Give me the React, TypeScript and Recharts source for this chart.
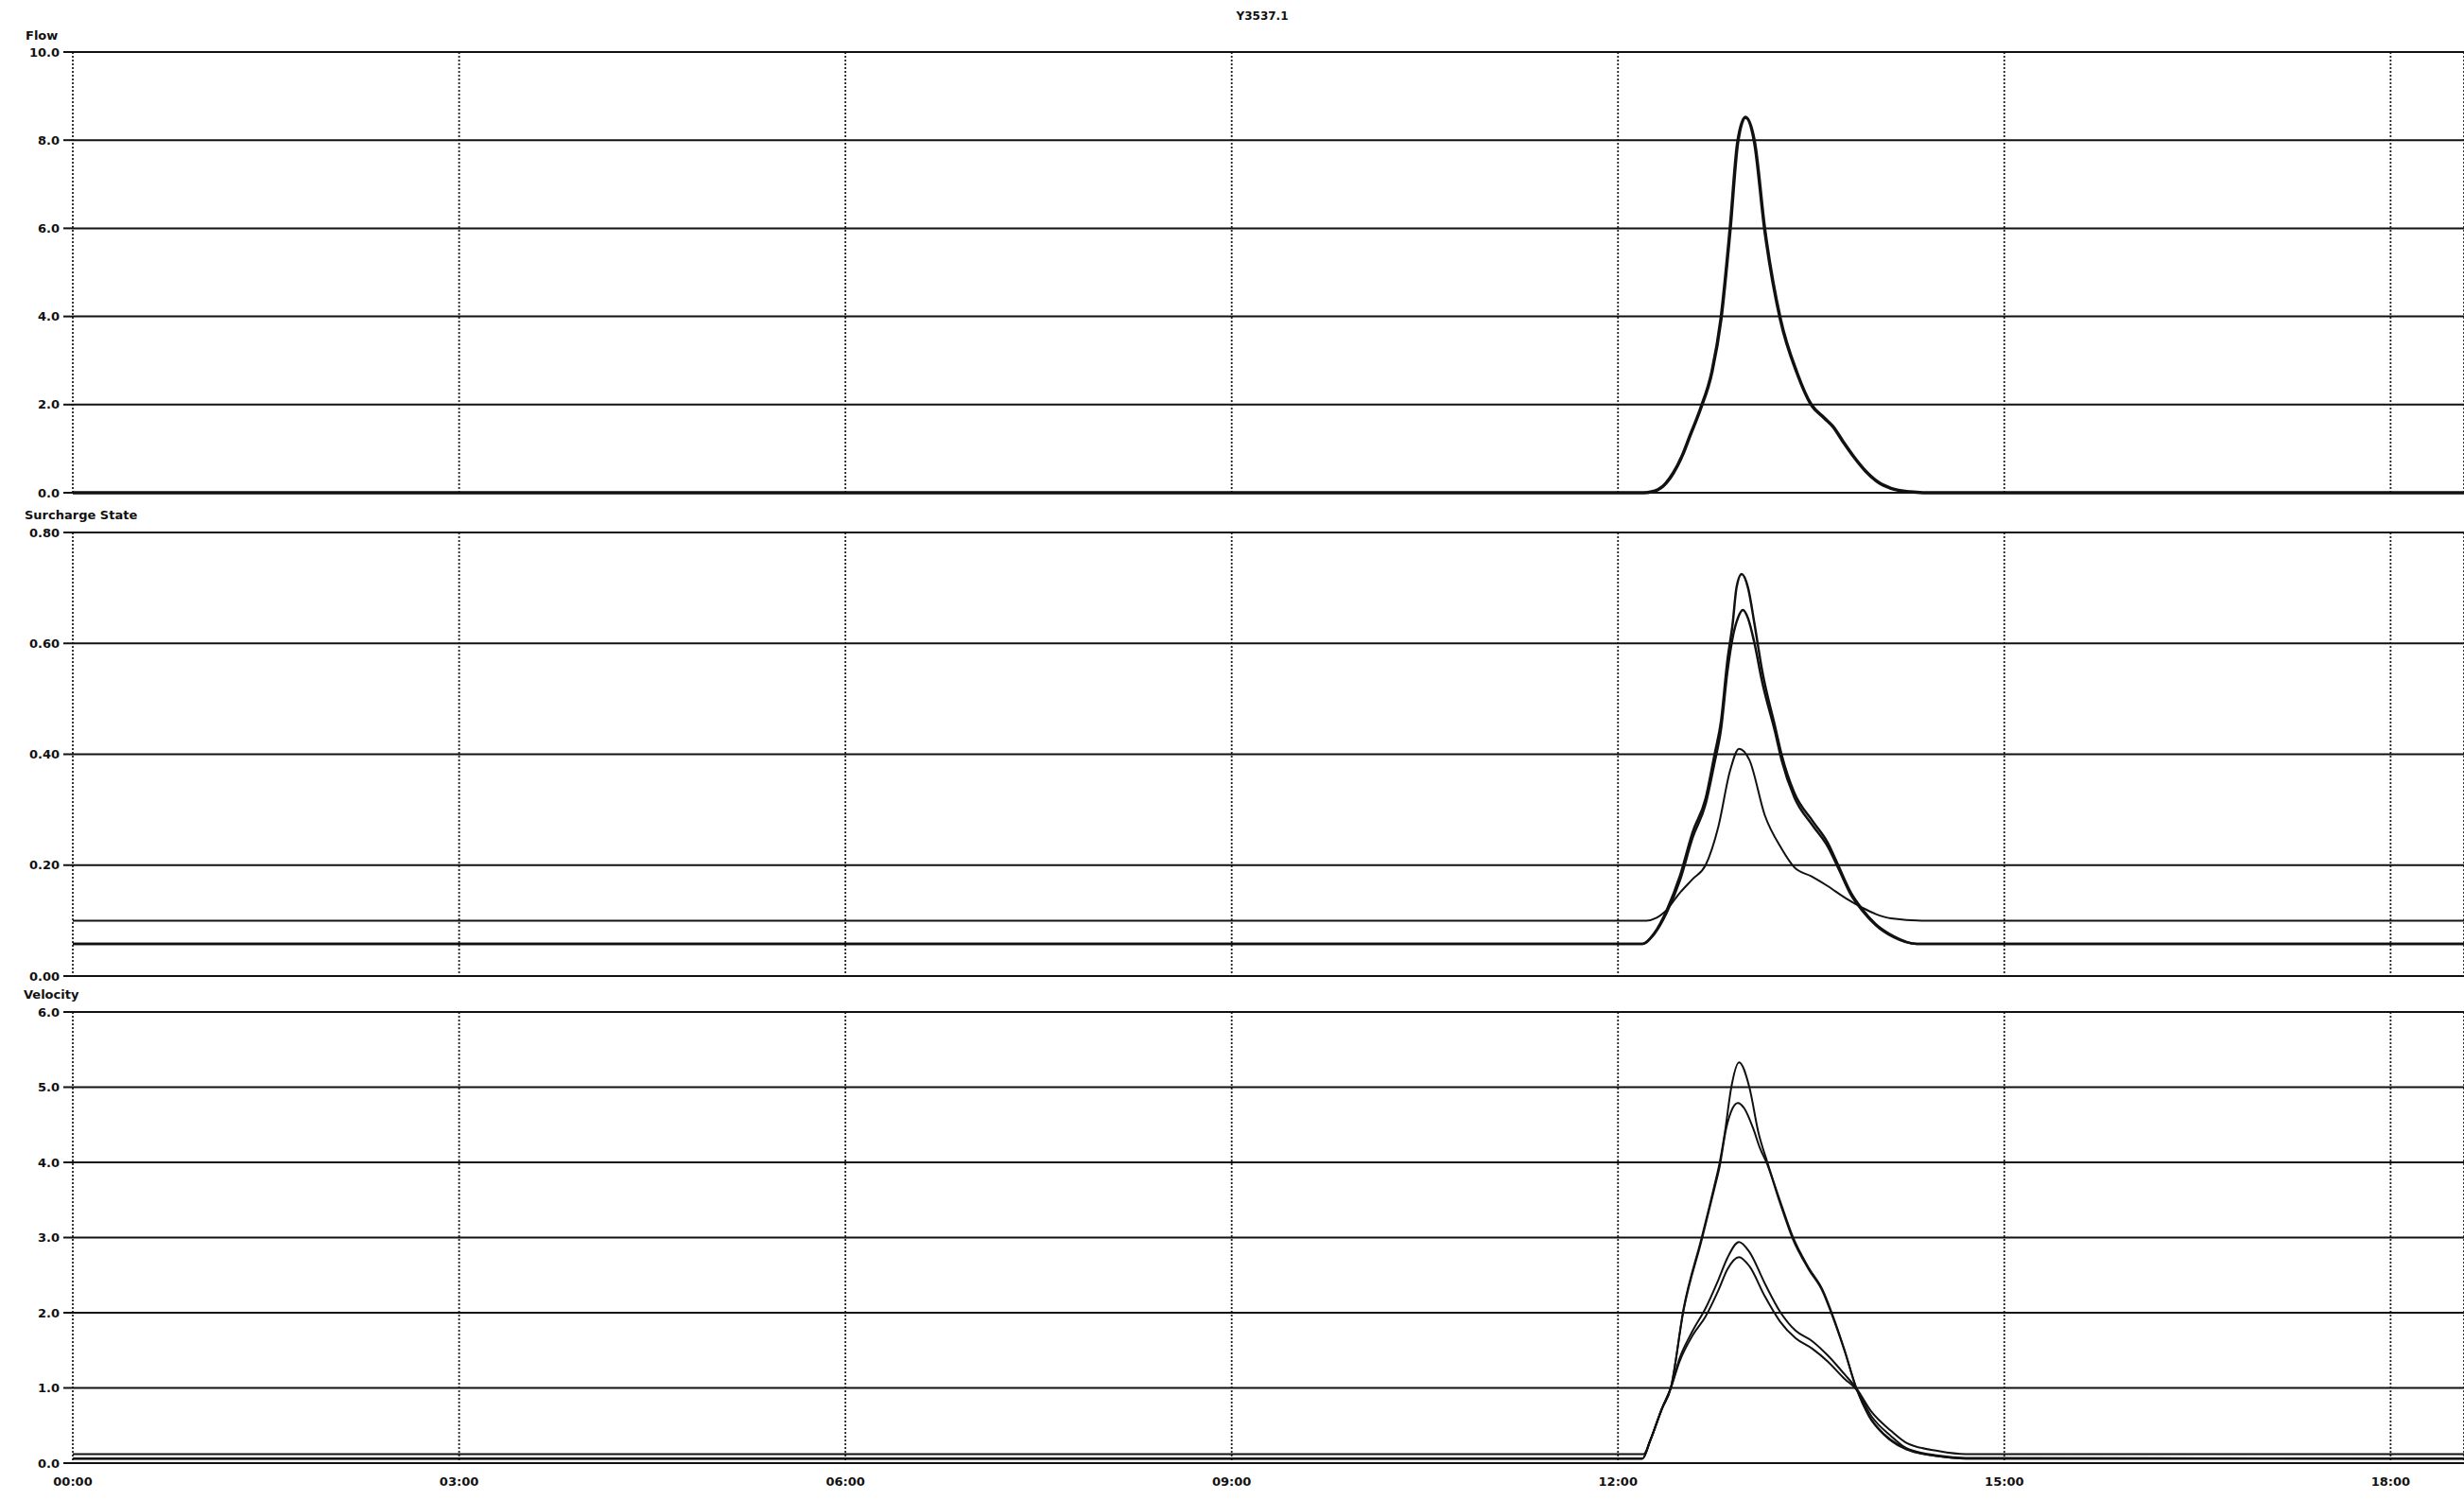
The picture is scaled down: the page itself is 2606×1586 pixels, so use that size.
import { LineChart, Line, XAxis, YAxis, CartesianGrid } from "recharts";

// time in hours since 00:00
const xEnd = 18.57;
const timeTicks = [0, 3, 6, 9, 12, 15, 18];

const flowTicks = [0, 2, 4, 6, 8, 10];
const surchargeTicks = [0, 0.2, 0.4, 0.6, 0.8];
const velocityTicks = [0, 1, 2, 3, 4, 5, 6];

const flowT = [0, 12.2, 12.26, 12.35, 12.43, 12.5, 12.56, 12.64, 12.73, 12.8, 12.87, 12.93, 12.99, 13.06, 13.14, 13.26, 13.39, 13.5, 13.6, 13.67, 13.75, 13.83, 13.92, 14.02, 14.12, 14.27, 14.4, 18.57];
const flowV = [0, 0, 0.02, 0.15, 0.45, 0.85, 1.3, 1.9, 2.75, 3.95, 5.96, 7.96, 8.52, 7.96, 5.96, 3.95, 2.72, 2.0, 1.7, 1.5, 1.15, 0.82, 0.5, 0.24, 0.1, 0.02, 0, 0];

const surAT = [0, 12.19, 12.28, 12.38, 12.48, 12.58, 12.68, 12.75, 12.8, 12.85, 12.89, 12.92, 12.96, 13.01, 13.06, 13.12, 13.22, 13.27, 13.37, 13.51, 13.63, 13.71, 13.81, 13.9, 14.0, 14.14, 14.32, 18.57];
const surAV = [0.058, 0.058, 0.077, 0.12, 0.18, 0.26, 0.32, 0.4, 0.46, 0.57, 0.635, 0.7, 0.725, 0.7, 0.635, 0.55, 0.45, 0.4, 0.33, 0.28, 0.24, 0.2, 0.15, 0.12, 0.094, 0.072, 0.058, 0.058];

const surBT = [0, 12.19, 12.28, 12.38, 12.48, 12.58, 12.68, 12.75, 12.8, 12.85, 12.89, 12.93, 12.97, 13.01, 13.06, 13.12, 13.22, 13.27, 13.37, 13.51, 13.63, 13.71, 13.81, 13.9, 14.0, 14.14, 14.32, 18.57];
const surBV = [0.058, 0.058, 0.075, 0.115, 0.172, 0.25, 0.31, 0.385, 0.445, 0.55, 0.61, 0.645, 0.66, 0.645, 0.6, 0.53, 0.44, 0.39, 0.322, 0.272, 0.233, 0.195, 0.146, 0.117, 0.092, 0.07, 0.058, 0.058];

const surCT = [0, 12.22, 12.3, 12.36, 12.48, 12.58, 12.68, 12.78, 12.87, 12.94, 13.02, 13.14, 13.27, 13.37, 13.5, 13.63, 13.77, 13.9, 14.0, 14.12, 14.36, 18.57];
const surCV = [0.1, 0.1, 0.105, 0.115, 0.15, 0.175, 0.2, 0.27, 0.37, 0.41, 0.39, 0.29, 0.23, 0.196, 0.18, 0.162, 0.14, 0.123, 0.112, 0.104, 0.1, 0.1];

const vel1T = [0, 12.19, 12.25, 12.34, 12.41, 12.51, 12.65, 12.75, 12.79, 12.83, 12.88, 12.94, 13.02, 13.09, 13.16, 13.26, 13.36, 13.48, 13.59, 13.66, 13.76, 13.85, 13.95, 14.07, 14.24, 14.49, 14.7, 18.57];
const vel1V = [0.06, 0.06, 0.3, 0.72, 1.0, 2.06, 3.0, 3.7, 4.0, 4.4, 5.0, 5.33, 5.0, 4.4, 4.0, 3.48, 3.0, 2.6, 2.3, 2.0, 1.5, 1.0, 0.63, 0.38, 0.19, 0.09, 0.06, 0.06];

const vel2T = [0, 12.19, 12.25, 12.34, 12.41, 12.51, 12.65, 12.75, 12.79, 12.84, 12.89, 12.93, 12.98, 13.05, 13.1, 13.16, 13.26, 13.36, 13.48, 13.59, 13.66, 13.76, 13.85, 13.95, 14.07, 14.24, 14.49, 14.7, 18.57];
const vel2V = [0.06, 0.06, 0.3, 0.72, 1.0, 2.04, 2.97, 3.66, 3.95, 4.45, 4.72, 4.79, 4.72, 4.45, 4.2, 3.97, 3.45, 2.97, 2.58, 2.28, 1.98, 1.49, 1.0, 0.62, 0.37, 0.18, 0.09, 0.06, 0.06];

const vel3T = [0, 12.2, 12.25, 12.34, 12.41, 12.48, 12.58, 12.68, 12.78, 12.85, 12.94, 13.02, 13.14, 13.26, 13.38, 13.51, 13.63, 13.76, 13.85, 13.97, 14.12, 14.24, 14.49, 14.7, 18.57];
const vel3V = [0.12, 0.12, 0.3, 0.72, 1.0, 1.4, 1.76, 2.06, 2.44, 2.73, 2.94, 2.81, 2.39, 2.01, 1.76, 1.62, 1.43, 1.18, 1.0, 0.68, 0.43, 0.27, 0.16, 0.12, 0.12];

const vel4T = [0, 12.19, 12.25, 12.34, 12.41, 12.48, 12.58, 12.68, 12.78, 12.85, 12.94, 13.02, 13.14, 13.26, 13.38, 13.51, 13.63, 13.76, 13.85, 13.97, 14.12, 14.24, 14.49, 14.7, 18.57];
const vel4V = [0.06, 0.06, 0.3, 0.72, 1.0, 1.36, 1.7, 1.95, 2.3, 2.58, 2.74, 2.62, 2.22, 1.88, 1.66, 1.52, 1.35, 1.12, 0.98, 0.62, 0.36, 0.2, 0.1, 0.07, 0.06];

const toRows = (t: number[], v: number[]) => t.map((x, i) => ({ t: x, v: v[i] }));

const FONT = "'DejaVu Sans', Verdana, sans-serif";
const W = 2606;

const hhmm = (h: number) => `${String(Math.floor(h)).padStart(2, "0")}:00`;

const tickStyle = { fill: "#111", fontSize: 13, fontWeight: 700, fontFamily: FONT };

type Panel = {
  top: number;
  height: number;
  margin: { top: number; right: number; bottom: number; left: number };
  domain: [number, number];
  ticks: number[];
  digits: number;
  series: { t: number[]; v: number[]; w: number }[];
  showX?: boolean;
};

function PanelChart({ p }: { p: Panel }) {
  return (
    <div style={{ position: "absolute", left: 0, top: p.top }}>
      <LineChart width={W} height={p.height} margin={p.margin}>
        <CartesianGrid
          horizontal={false}
          stroke="#222"
          strokeWidth={1.8}
          strokeDasharray="2 2"
        />
        <CartesianGrid vertical={false} stroke="#111" strokeWidth={2} />
        <XAxis
          type="number"
          dataKey="t"
          domain={[0, xEnd]}
          ticks={timeTicks}
          allowDataOverflow
          hide={!p.showX}
          height={p.showX ? 30 : 0}
          tickFormatter={hhmm}
          tick={tickStyle}
          axisLine={false}
          tickLine={false}
          tickSize={0}
          tickMargin={15}
        />
        <YAxis
          type="number"
          domain={p.domain}
          ticks={p.ticks}
          width={77}
          axisLine={false}
          tickLine={{ stroke: "#111", strokeWidth: 2 }}
          tickSize={10}
          tickMargin={4}
          tick={tickStyle}
          tickFormatter={(v: number) => v.toFixed(p.digits)}
        />
        {p.series.map((s, i) => (
          <Line
            key={i}
            data={toRows(s.t, s.v)}
            dataKey="v"
            type="monotone"
            stroke="#111"
            strokeWidth={s.w}
            dot={false}
            isAnimationActive={false}
          />
        ))}
      </LineChart>
    </div>
  );
}

const panels: Panel[] = [
  {
    top: 0,
    height: 530,
    margin: { top: 55, right: 0, bottom: 9, left: 0 },
    domain: [0, 10],
    ticks: flowTicks,
    digits: 1,
    series: [{ t: flowT, v: flowV, w: 3.5 }],
  },
  {
    top: 530,
    height: 510,
    margin: { top: 33, right: 0, bottom: 8, left: 0 },
    domain: [0, 0.8],
    ticks: surchargeTicks,
    digits: 2,
    series: [
      { t: surAT, v: surAV, w: 2.5 },
      { t: surBT, v: surBV, w: 2.5 },
      { t: surCT, v: surCV, w: 2 },
    ],
  },
  {
    top: 1040,
    height: 546,
    margin: { top: 30, right: 0, bottom: 9, left: 0 },
    domain: [0, 6],
    ticks: velocityTicks,
    digits: 1,
    showX: true,
    series: [
      { t: vel1T, v: vel1V, w: 2 },
      { t: vel2T, v: vel2V, w: 2 },
      { t: vel3T, v: vel3V, w: 2 },
      { t: vel4T, v: vel4V, w: 2 },
    ],
  },
];

const labelStyle: React.CSSProperties = {
  position: "absolute",
  fontFamily: FONT,
  fontWeight: 700,
  fontSize: 13,
  color: "#111",
  whiteSpace: "nowrap",
  lineHeight: "14px",
};

export default function App() {
  return (
    <div
      style={{
        position: "absolute",
        left: 0,
        top: 0,
        width: W,
        height: 1586,
        background: "#fff",
        overflow: "hidden",
      }}
    >
      {panels.map((p, i) => (
        <PanelChart key={i} p={p} />
      ))}
      <div
        style={{
          ...labelStyle,
          fontSize: 12,
          left: 0,
          width: 2670,
          textAlign: "center",
          top: 10,
        }}
      >
        Y3537.1
      </div>
      <div style={{ ...labelStyle, left: 27, top: 31 }}>Flow</div>
      <div style={{ ...labelStyle, left: 26, top: 538 }}>Surcharge State</div>
      <div style={{ ...labelStyle, left: 25, top: 1045 }}>Velocity</div>
    </div>
  );
}
